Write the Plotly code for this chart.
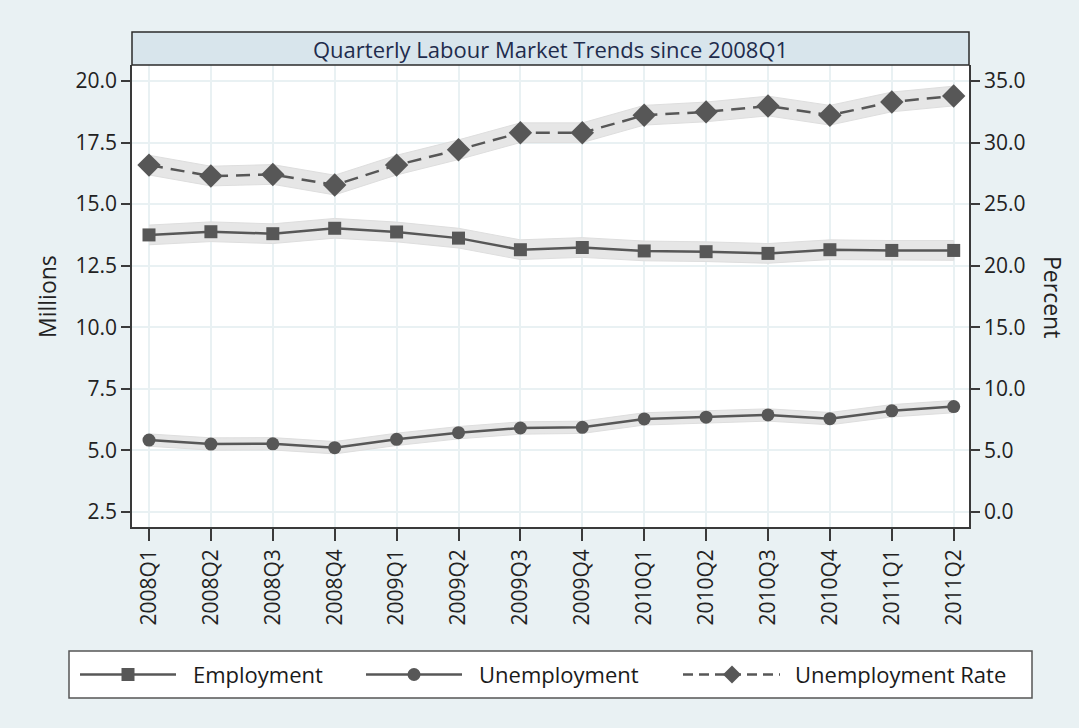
import plotly.graph_objects as go

# ---------------- data ----------------
quarters = ["2008Q1", "2008Q2", "2008Q3", "2008Q4", "2009Q1", "2009Q2", "2009Q3",
            "2009Q4", "2010Q1", "2010Q2", "2010Q3", "2010Q4", "2011Q1", "2011Q2"]
employment = [13.75, 13.88, 13.80, 14.02, 13.87, 13.62, 13.15,
              13.24, 13.10, 13.07, 13.00, 13.15, 13.12, 13.12]
employment_ci = [0.40, 0.40, 0.40, 0.40, 0.40, 0.40, 0.40,
                 0.40, 0.40, 0.40, 0.40, 0.40, 0.40, 0.40]
unemployment = [5.42, 5.26, 5.27, 5.11, 5.45, 5.72, 5.91,
                5.94, 6.28, 6.35, 6.44, 6.29, 6.61, 6.78]
unemployment_ci = [0.25, 0.25, 0.25, 0.25, 0.25, 0.25, 0.25,
                   0.25, 0.25, 0.25, 0.25, 0.25, 0.25, 0.25]
unemp_rate = [28.17, 27.28, 27.41, 26.55, 28.17, 29.42, 30.80,
              30.80, 32.22, 32.49, 32.97, 32.22, 33.30, 33.78]
unemp_rate_ci = [0.80, 0.80, 0.80, 0.80, 0.80, 0.80, 0.80,
                 0.80, 0.80, 0.80, 0.80, 0.80, 0.80, 0.80]
left_ticks = [2.5, 5.0, 7.5, 10.0, 12.5, 15.0, 17.5, 20.0]
right_ticks = [0, 5, 10, 15, 20, 25, 30, 35]
legend_labels = ["Employment", "Unemployment", "Unemployment Rate"]

# ---------------- style ----------------
FONT = "Open Sans"
LINE_C = "#575757"
BAND_C = "#e6e6e6"
BAND_EDGE = "#dedede"
BG = "#e9f1f3"
GRID = "#e9f1f3"
AX = "#3a3a3a"

xs = list(range(len(quarters)))

fig = go.Figure()


def band(vals, ci, yaxis):
    upper = [v + c for v, c in zip(vals, ci)]
    lower = [v - c for v, c in zip(vals, ci)]
    fig.add_trace(go.Scatter(
        x=xs + xs[::-1], y=upper + lower[::-1], yaxis=yaxis,
        fill="toself", fillcolor=BAND_C, mode="lines",
        line=dict(color=BAND_EDGE, width=1), hoverinfo="skip", showlegend=False))


band(employment, employment_ci, "y")
band(unemployment, unemployment_ci, "y")
band(unemp_rate, unemp_rate_ci, "y2")

fig.add_trace(go.Scatter(x=xs, y=employment, mode="lines+markers", name=legend_labels[0],
                         line=dict(color=LINE_C, width=2.5),
                         marker=dict(symbol="square", size=13, color=LINE_C), showlegend=False))
fig.add_trace(go.Scatter(x=xs, y=unemployment, mode="lines+markers", name=legend_labels[1],
                         line=dict(color=LINE_C, width=2.5),
                         marker=dict(symbol="circle", size=13, color=LINE_C), showlegend=False))
fig.add_trace(go.Scatter(x=xs, y=unemp_rate, mode="lines+markers", name=legend_labels[2], yaxis="y2",
                         line=dict(color=LINE_C, width=2.5, dash="14px,8px"),
                         marker=dict(symbol="diamond", size=18, color=LINE_C), showlegend=False))

# ---------------- geometry ----------------
W, H = 1079, 728
ML, MR, MT, MB = 132, 110, 65, 201
PW = W - ML - MR
PH = H - MT - MB


def px(xp):
    return (xp - ML) / PW


def py(yp):
    return (H - MB - yp) / PH


shapes = []
annotations = []

# title bar
shapes.append(dict(type="rect", xref="paper", yref="paper", x0=0, x1=1, y0=1, y1=py(32),
                   fillcolor="#d8e5ec", line=dict(color="#2b2b2b", width=1.5), layer="above"))
annotations.append(dict(text="Quarterly Labour Market Trends since 2008Q1", xref="paper", yref="paper",
                        x=0.5, y=(1 + py(32)) / 2, showarrow=False, xanchor="center", yanchor="middle",
                        font=dict(family=FONT, size=22, color="#1f2c4c")))

# axis titles
annotations.append(dict(text="Millions", xref="paper", yref="paper", x=px(47), y=py(297),
                        textangle=-90, showarrow=False, xanchor="center", yanchor="middle",
                        font=dict(family=FONT, size=23, color="#222")))
annotations.append(dict(text="Percent", xref="paper", yref="paper", x=px(1053), y=py(297),
                        textangle=90, showarrow=False, xanchor="center", yanchor="middle",
                        font=dict(family=FONT, size=23, color="#222")))

# legend box
shapes.append(dict(type="rect", xref="paper", yref="paper", x0=px(69), x1=px(1032), y0=py(698), y1=py(651),
                   fillcolor="white", line=dict(color="#555", width=1.5)))
ly = py(674.5)
items = [(80, 176, 128, "square", "solid", 191),
         (366, 462, 414, "circle", "solid", 477),
         (683, 780, 732, "diamond", "dash", 793)]
for (x0, x1, xm, sym, dash, xt), lab in zip(items, legend_labels):
    shapes.append(dict(type="line", xref="paper", yref="paper", x0=px(x0), x1=px(x1), y0=ly, y1=ly,
                       line=dict(color=LINE_C, width=2.5, dash="10px,6px" if dash == "dash" else "solid")))
    if sym == "square":
        shapes.append(dict(type="rect", xref="paper", yref="paper", xsizemode="pixel", ysizemode="pixel",
                           xanchor=px(xm), yanchor=ly, x0=-6.5, x1=6.5, y0=-6.5, y1=6.5,
                           fillcolor=LINE_C, line=dict(width=0)))
    elif sym == "circle":
        shapes.append(dict(type="circle", xref="paper", yref="paper", xsizemode="pixel", ysizemode="pixel",
                           xanchor=px(xm), yanchor=ly, x0=-6.5, x1=6.5, y0=-6.5, y1=6.5,
                           fillcolor=LINE_C, line=dict(width=0)))
    else:
        shapes.append(dict(type="path", xref="paper", yref="paper", xsizemode="pixel", ysizemode="pixel",
                           xanchor=px(xm), yanchor=ly, path="M -9 0 L 0 9 L 9 0 L 0 -9 Z",
                           fillcolor=LINE_C, line=dict(width=0)))
    annotations.append(dict(text=lab, xref="paper", yref="paper", x=px(xt), y=ly, showarrow=False,
                            xanchor="left", yanchor="middle",
                            font=dict(family=FONT, size=22, color="#1a1a1a")))

# ranges: left 24.63 px/unit, right axis = 2*(left-2.5)
ypu = (512 - 81) / 17.5
y_lo = 2.5 - (527 - 512) / ypu
y_hi = 20 + (81 - 65) / ypu
xpu = 61.9
x_lo = -(149 - ML) / xpu
x_hi = (W - MR - 149) / xpu

fig.update_layout(
    width=W, height=H,
    margin=dict(l=ML, r=MR, t=MT, b=MB, pad=0),
    paper_bgcolor=BG, plot_bgcolor="white",
    font=dict(family=FONT, color="#222"),
    showlegend=False,
    shapes=shapes, annotations=annotations,
    xaxis=dict(range=[x_lo, x_hi], tickvals=xs, ticktext=quarters, tickangle=-90,
               ticks="outside", ticklen=12, tickwidth=1.5, tickcolor=AX,
               showline=True, linecolor=AX, linewidth=1.5,
               showgrid=True, gridcolor=GRID, gridwidth=2, zeroline=False,
               tickfont=dict(family=FONT, size=21, color="#222")),
    yaxis=dict(range=[y_lo, y_hi], tickvals=left_ticks, tickformat=".1f",
               ticks="outside", ticklen=9, tickwidth=1.5, tickcolor=AX,
               showline=True, linecolor=AX, linewidth=1.5,
               showgrid=True, gridcolor=GRID, gridwidth=2, zeroline=False,
               tickfont=dict(family=FONT, size=21, color="#222")),
    yaxis2=dict(range=[2 * (y_lo - 2.5), 2 * (y_hi - 2.5)], tickvals=right_ticks, tickformat=".1f",
                overlaying="y", side="right",
                ticks="outside", ticklen=9, tickwidth=1.5, tickcolor=AX,
                showline=True, linecolor=AX, linewidth=1.5,
                showgrid=False, zeroline=False,
                tickfont=dict(family=FONT, size=21, color="#222")),
)

fig.write_html("out.html")
